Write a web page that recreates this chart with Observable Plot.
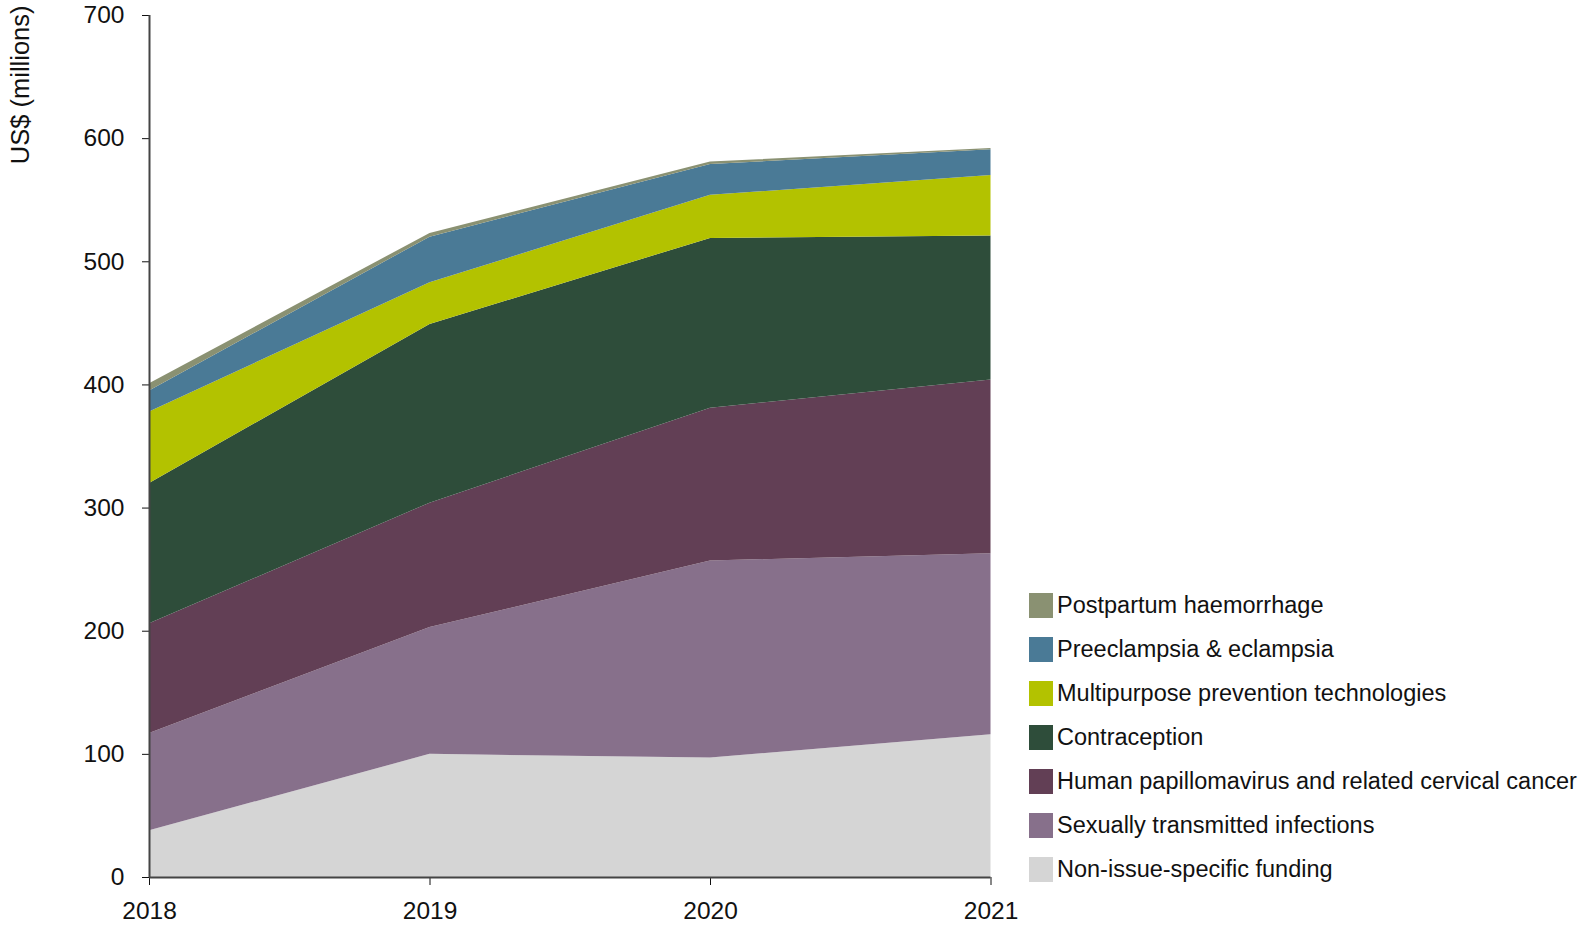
<!DOCTYPE html>
<html>
<head>
<meta charset="utf-8">
<script src="https://cdn.jsdelivr.net/npm/d3@7"></script>
<script src="https://cdn.jsdelivr.net/npm/@observablehq/plot@0.6"></script>
<style>
  body { margin: 0; background: #fff; }
  #wrap { position: relative; width: 1588px; height: 930px; }
  #legend { position: absolute; left: 1029px; top: 583px; width: 559px; }
  #legend .lg-swatches { font-family: 'Liberation Sans', Arial, sans-serif !important; font-size: 23.5px !important; margin: 0 !important; color: #111 !important; columns: auto !important; }
  #legend .lg-swatch { display: flex !important; align-items: center !important; height: 44.1px !important; padding: 0 !important; margin: 0 !important; }
  #legend .lg-swatch > svg { margin-right: 4px !important; flex: none; }
  #legend .lg-swatch-label { overflow: visible !important; text-overflow: clip !important; white-space: nowrap; }
</style>
</head>
<body>
<div id="wrap"></div>
<script>
// ---- data ----
const years = [2018, 2019, 2020, 2021];
// stacking order, bottom to top
const categories = [
  "Non-issue-specific funding",
  "Sexually transmitted infections",
  "Human papillomavirus and related cervical cancer",
  "Contraception",
  "Multipurpose prevention technologies",
  "Preeclampsia & eclampsia",
  "Postpartum haemorrhage"
];
const colors = ["#d5d5d5", "#87708b", "#623f55", "#2e4d3a", "#b3c200", "#4a7a96", "#8a9172"];
const nonIssue      = [38, 100, 97, 116];
const sti           = [79, 103, 160, 147];
const hpv           = [89, 101, 124, 141];
const contraception = [114, 145, 138, 117];
const mpt           = [58, 34, 35, 49];
const preeclampsia  = [17, 37, 25, 21];
const postpartum    = [6, 3, 2, 1];
const yTicks = [0, 100, 200, 300, 400, 500, 600, 700];
const yLabel = "US$ (millions)";

const seriesValues = [nonIssue, sti, hpv, contraception, mpt, preeclampsia, postpartum];
const data = [];
seriesValues.forEach((vals, i) => vals.forEach((v, j) => data.push({year: years[j], value: v, category: categories[i]})));

const font = "'Liberation Sans', Arial, sans-serif";

const chart = Plot.plot({
  width: 1588,
  height: 930,
  marginLeft: 149,
  marginRight: 597.5,
  marginTop: 15,
  marginBottom: 53,
  style: {fontFamily: font, fontSize: "24.5px", color: "#111", background: "#fff", overflow: "visible"},
  x: {domain: [2018, 2021], ticks: years, tickFormat: "d", tickSize: 8, tickPadding: 16, label: null},
  y: {domain: [0, 700], ticks: yTicks, tickSize: 7, tickPadding: 18, label: null},
  color: {domain: categories, range: colors},
  marks: [
    Plot.areaY(data, {x: "year", y: "value", fill: "category", order: null}),
    Plot.ruleX([2018], {stroke: "#444", strokeWidth: 2}),
    Plot.ruleY([0], {stroke: "#444", strokeWidth: 2}),
    Plot.text([yLabel], {text: d => d, frameAnchor: "top-left", rotate: -90, textAnchor: "end", dx: -139, dy: -10, fontSize: 25.5, fill: "#111"})
  ]
});
document.getElementById("wrap").appendChild(chart);

const legend = Plot.legend({
  color: {type: "categorical", domain: [...categories].reverse(), range: [...colors].reverse()},
  legend: "swatches",
  columns: 1,
  swatchWidth: 24,
  swatchHeight: 25,
  className: "lg"
});
const lg = document.createElement("div");
lg.id = "legend";
lg.appendChild(legend);
document.getElementById("wrap").appendChild(lg);
</script>
</body>
</html>
